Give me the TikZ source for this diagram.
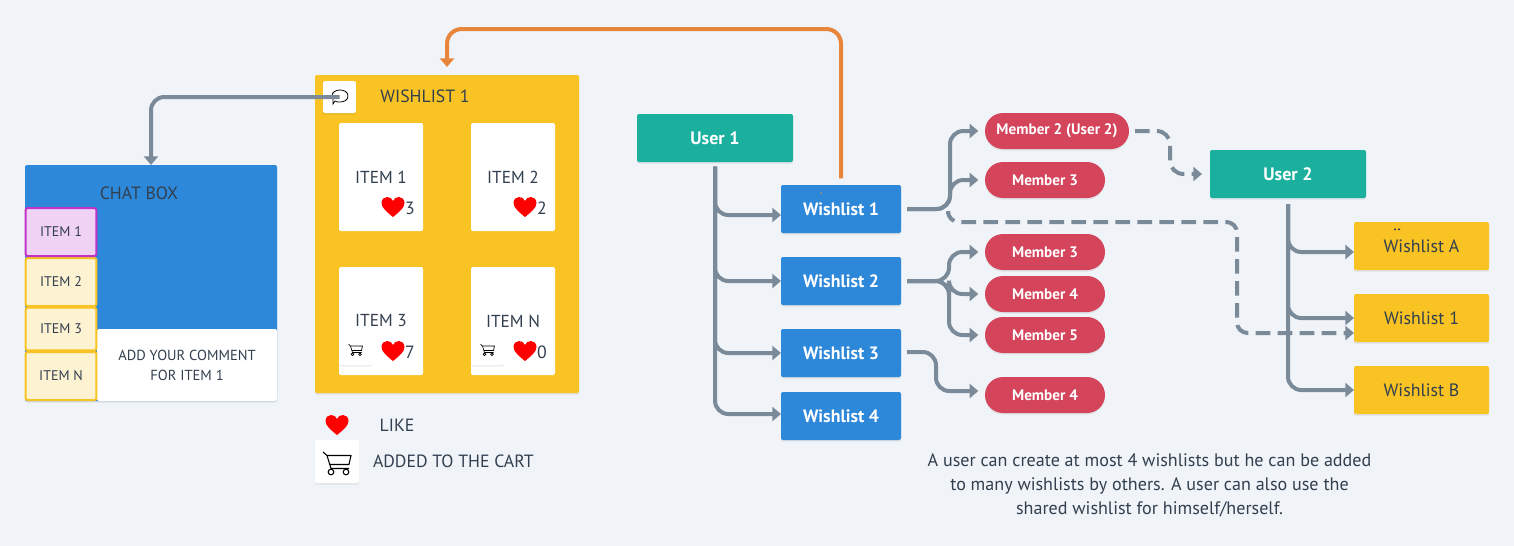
\documentclass[tikz,border=0pt]{standalone}
\usepackage{fontspec}
\setmainfont{PT Sans}
\usetikzlibrary{arrows.meta,shadows}
\definecolor{pagebg}{HTML}{F0F4F8}
\definecolor{inkdark}{HTML}{323F4F}
\definecolor{linegray}{HTML}{7B8A99}
\definecolor{bluebox}{HTML}{2D88D9}
\definecolor{tealbox}{HTML}{1BB09D}
\definecolor{redpill}{HTML}{D4445B}
\definecolor{yellowbox}{HTML}{F8C323}
\definecolor{paleyellow}{HTML}{FDF2D2}
\definecolor{palepurple}{HTML}{F0D2F4}
\definecolor{purpleline}{HTML}{C034C8}
\definecolor{orangeline}{HTML}{E8853A}
\tikzset{
  softshadow/.style={drop shadow={shadow xshift=0pt,shadow yshift=-1.2pt,opacity=.07,fill=black}},
  plainbox/.style={inner sep=0pt,outer sep=0pt,rounded corners=1.5pt,align=center,text=inkdark,font=\fontsize{13}{15}\selectfont},
  userbox/.style={plainbox,softshadow,fill=tealbox,text=white,minimum width=117pt,minimum height=36pt,font=\fontsize{13.5}{15}\selectfont\bfseries},
  listbox/.style={plainbox,softshadow,fill=bluebox,text=white,minimum width=90pt,minimum height=36pt,font=\fontsize{13.4}{15}\selectfont\bfseries},
  sharedbox/.style={plainbox,softshadow,fill=yellowbox,minimum width=101.25pt,minimum height=36pt,font=\fontsize{13.4}{15}\selectfont},
  memberpill/.style={plainbox,softshadow,fill=redpill,text=white,rounded corners=13.5pt,minimum width=90pt,minimum height=27pt,font=\fontsize{11.4}{12}\selectfont\bfseries},
  itemcard/.style={plainbox,fill=white,minimum width=63pt,minimum height=81pt},
  tabitem/.style={plainbox,fill=paleyellow,draw=yellowbox,line width=1.5pt,minimum width=53pt,font=\fontsize{10.5}{12}\selectfont},
  iconbox/.style={plainbox,softshadow,fill=white},
  plaintext/.style={inner sep=0pt,outer sep=0pt,text=inkdark,font=\fontsize{13.3}{15}\selectfont},
  conn/.style={draw=linegray,line width=3pt,rounded corners=10pt,-{Triangle[length=6.5pt,width=10.5pt]}},
  gapped/.style={conn,shorten >=5pt},
  dashconn/.style={conn,dash pattern=on 11pt off 5.5pt},
  pics/heartmark/.style={code={
    \fill[red] (0,10) .. controls (-6,5) and (-11.5,1) .. (-11.5,-4) .. controls (-11.5,-8) and (-8.5,-10) .. (-6,-10)
      .. controls (-3,-10) and (-1,-8.5) .. (0,-6) .. controls (1,-8.5) and (3,-10) .. (6,-10)
      .. controls (8.5,-10) and (11.5,-8) .. (11.5,-4) .. controls (11.5,1) and (6,5) .. (0,10) -- cycle;
  }},
  pics/cartmark/.style={code={
    \draw[black] (-14,-9.5) -- (-10,-6) -- (14,-6) -- (12,3) -- (-7,3);
    \draw[black] (-10,-6) -- (-6,7) -- (12,7);
    \draw[black] (-6,10.5) circle (2.8) (9,10.5) circle (2.8);
  }},
}
\begin{document}
\begin{tikzpicture}[x=0.75pt,y=-0.75pt]
	%background
	\fill[pagebg] (0,0) rectangle (1514,546);
	\useasboundingbox (0,0) rectangle (1514,546);

	%chat box
	\node[plainbox,softshadow,fill=bluebox,minimum width=189pt,minimum height=177pt] at (151,283) (chatbox) {};
	\node[plaintext] at (139,193) (chattitle) {CHAT BOX};
	\node[plainbox,fill=white,minimum width=135pt,minimum height=54pt,font=\fontsize{10.9}{15}\selectfont] at (187,365) (commentbox) {ADD YOUR COMMENT\\FOR ITEM 1};
	\node[tabitem,minimum height=36pt] at (61,282) (tabtwo) {ITEM 2};
	\node[tabitem,minimum height=32pt] at (61,329) (tabthree) {ITEM 3};
	\node[tabitem,minimum height=36pt] at (61,376) (tabn) {ITEM N};
	\node[tabitem,minimum height=36pt,fill=palepurple,draw=purpleline] at (61,232) (tabone) {ITEM 1};

	%wishlist 1 board
	\node[plainbox,softshadow,fill=yellowbox,minimum width=198pt,minimum height=238.5pt] at (447,234) (board) {};
	\node[plaintext] at (425,96) (boardtitle) {WISHLIST 1};
	\node[itemcard] at (381,177) (cardone) {ITEM 1};
	\node[itemcard] at (513,177) (cardtwo) {ITEM 2};
	\node[itemcard] at (381,321) (cardthree) {ITEM 3};
	\node[itemcard] at (513,321) (cardn) {ITEM N};
	\node[iconbox,minimum width=24.5pt,minimum height=24pt] at (339.5,97) (chaticon) {};
	\draw[black,line width=.6pt] (332,96) .. controls (332,92) and (336,90) .. (340,90) .. controls (344,90) and (348,92) .. (348,96)
		.. controls (348,100) and (344,102) .. (340,102) .. controls (338,102) and (336,102) .. (335,101) -- (333,104) -- (333,99) .. controls (332,98) and (332,97) .. (332,96);

	%likes and cart marks
	\pic at (393,207) {heartmark};
	\pic at (525,207) {heartmark};
	\pic at (393,351) {heartmark};
	\pic at (525,351) {heartmark};
	\node[plaintext] at (410,208) (countone) {3};
	\node[plaintext] at (542,208) (counttwo) {2};
	\node[plaintext] at (410,352) (countthree) {7};
	\node[plaintext] at (542,352) (countn) {0};
	\node[iconbox,minimum width=24.75pt,minimum height=24pt] at (355.5,349) (cartthree) {};
	\node[iconbox,minimum width=24.75pt,minimum height=24pt] at (487.5,349) (cartn) {};
	\pic[scale=.5,line width=.5pt] at (355.5,349) {cartmark};
	\pic[scale=.5,line width=.5pt] at (487.5,349) {cartmark};

	%legend
	\pic at (337,425) {heartmark};
	\node[plaintext] at (397,425) (liketext) {LIKE};
	\node[iconbox,minimum width=33pt,minimum height=32.25pt] at (337,461.5) (carticon) {};
	\pic[line width=.8pt] at (337,461.5) {cartmark};
	\node[plaintext,anchor=west] at (373,461) (carttext) {ADDED TO THE CART};

	%user 1 side
	\node[userbox] at (715,138) (userone) {User 1};
	\node[listbox] at (841,209) (listone) {Wishlist 1};
	\fill[linegray] (820,192) rectangle (821.5,193.5);
	\node[listbox] at (841,281) (listtwo) {Wishlist 2};
	\node[listbox] at (841,353) (listthree) {Wishlist 3};
	\node[listbox] at (841,416) (listfour) {Wishlist 4};
	\node[memberpill,minimum width=108pt] at (1057,131) (membertwo) {Member 2 (User 2)};
	\node[memberpill] at (1045,180) (memberthree) {Member 3};
	\node[memberpill] at (1045,252) (memberthreeb) {Member 3};
	\node[memberpill] at (1045,294) (memberfour) {Member 4};
	\node[memberpill] at (1045,335) (memberfive) {Member 5};
	\node[memberpill] at (1045,395) (memberfourb) {Member 4};

	%user 2 side
	\node[userbox] at (1288,174) (usertwo) {User 2};
	\node[sharedbox] at (1421.5,246) (shareda) {Wishlist A};
	\node[sharedbox] at (1421.5,318) (sharedone) {Wishlist 1};
	\node[sharedbox] at (1421.5,390) (sharedb) {Wishlist B};
	\fill[inkdark] (1394,228.5) rectangle (1396,230) (1398,228.5) rectangle (1400,230);

	%arrows
	\draw[conn,shorten <=3.5pt] (userone.south) |- ([yshift=-4.5pt]listone.west);
	\draw[conn,shorten <=3.5pt] (userone.south) |- (listtwo.west);
	\draw[conn,shorten <=3.5pt] (userone.south) |- (listthree.west);
	\draw[conn,shorten <=3.5pt] (userone.south) |- ([yshift=1.5pt]listfour.west);

	\draw[gapped,shorten <=4.5pt] (listone.east) -- ++(49,0) |- (membertwo.west);
	\draw[gapped,shorten <=4.5pt] (listone.east) -- ++(49,0) |- (memberthree.west);
	\draw[gapped,shorten <=4.5pt] (listtwo.east) -- ++(48,0) |- (memberthreeb.west);
	\draw[gapped,shorten <=4.5pt] (listtwo.east) -- ++(48,0) |- (memberfour.west);
	\draw[gapped,shorten <=4.5pt] (listtwo.east) -- ++(48,0) |- (memberfive.west);
	\draw[gapped,shorten <=4.5pt] ([yshift=.75pt]listthree.east) -- ++(35,0) |- ([yshift=3pt]memberfourb.west);

	\draw[conn,shorten <=4.5pt] (usertwo.south) |- ([yshift=-4.5pt]shareda.west);
	\draw[conn,shorten <=4.5pt] (usertwo.south) |- (sharedone.west);
	\draw[conn,shorten <=4.5pt] (usertwo.south) |- (sharedb.west);

	\draw[dashconn,shorten <=4.5pt,shorten >=6pt] (membertwo.east) -- ++(41,0) |- (usertwo.west);
	\coordinate (sharestart) at (948,214);
	\coordinate (sharebend) at (1237,222);
	\draw[dashconn,rounded corners=8pt] (sharestart) |- (sharebend) |- ([yshift=-11.25pt]sharedone.west);

	\draw[conn] (chaticon.center) -| (chatbox.north);
	\draw[conn,draw=orangeline,rounded corners=11pt,shorten <=5pt,shorten >=6pt] (listone.north) -- ++(0,-156) -| (board.north);

	%note
	\node[plaintext,align=center,font=\fontsize{13.55}{18}\selectfont] at (1149.5,485) (note) {A user can create at most 4 wishlists but he can be added\\to many wishlists by others. A user can also use the\\shared wishlist for himself/herself.};
\end{tikzpicture}
\end{document}
